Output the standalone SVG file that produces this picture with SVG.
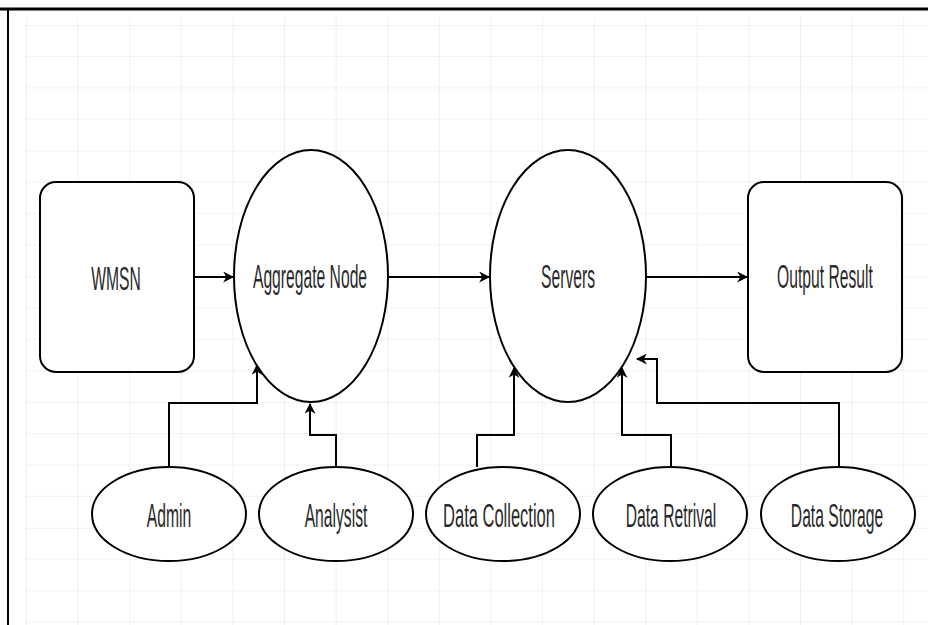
<svg xmlns="http://www.w3.org/2000/svg" width="928" height="625" viewBox="0 0 928 625">
<defs>
<marker id="arr" viewBox="0 0 10 10" refX="9" refY="5" markerWidth="11" markerHeight="11" markerUnits="userSpaceOnUse" orient="auto">
<path d="M0,0 L10,5 L0,10 L3,5 Z" fill="#000"/>
</marker>
<pattern id="grid" x="26" y="25" width="51.6" height="125.7" patternUnits="userSpaceOnUse">
<path d="M0,31.4 H51.6 M0,62.8 H51.6 M0,94.3 H51.6" stroke="#f2f2f2" stroke-width="1" fill="none"/>
<path d="M0,0 V125.7 M0,0 H51.6" stroke="#e2e2e2" stroke-width="1" fill="none"/>
</pattern>
</defs>
<style>
.shape{fill:#fff;stroke:#000;stroke-width:2}
.lbl{font-family:"Liberation Sans",Arial,sans-serif;font-size:33px;fill:#2a2a2a;text-anchor:middle}
.con{fill:none;stroke:#000;stroke-width:2;marker-end:url(#arr)}
</style>
<rect x="0" y="0" width="928" height="625" fill="#fff"/>
<rect x="26" y="17" width="902" height="608" fill="url(#grid)"/>
<line x1="0" y1="9" x2="928" y2="9" stroke="#000" stroke-width="3"/>
<line x1="8" y1="9" x2="8" y2="625" stroke="#000" stroke-width="2"/>

<g id="connectors">
<line class="con" x1="194" y1="277" x2="233" y2="277"/>
<line class="con" x1="388" y1="277" x2="489" y2="277"/>
<line class="con" x1="646" y1="277" x2="747" y2="277"/>
<polyline class="con" points="169,467 169,403 257,403 257,365"/>
<polyline class="con" points="336,467 336,435 310,435 310,404"/>
<polyline class="con" points="477,467 477,435 514,435 514,368"/>
<polyline class="con" points="671,467 671,435 622,435 622,368"/>
<polyline class="con" points="839,467 839,403 657,403 657,359 637,359"/>
</g>

<g id="wmsn">
<rect class="shape" x="40" y="182" width="154" height="190" rx="16" ry="16"/>
<text class="lbl" transform="translate(116,290) scale(0.475,1)">WMSN</text>
</g>
<g id="aggregate-node">
<ellipse class="shape" cx="311" cy="276" rx="77" ry="126"/>
<text class="lbl" transform="translate(310,288) scale(0.475,1)">Aggregate Node</text>
</g>
<g id="servers">
<ellipse class="shape" cx="568" cy="276" rx="78" ry="126"/>
<text class="lbl" transform="translate(568,288) scale(0.475,1)">Servers</text>
</g>
<g id="output-result">
<rect class="shape" x="748" y="182" width="154" height="190" rx="16" ry="16"/>
<text class="lbl" transform="translate(825,288) scale(0.475,1)">Output Result</text>
</g>
<g id="admin">
<ellipse class="shape" cx="169" cy="514" rx="77" ry="47"/>
<text class="lbl" transform="translate(169,527) scale(0.475,1)">Admin</text>
</g>
<g id="analysist">
<ellipse class="shape" cx="336" cy="514" rx="77" ry="47"/>
<text class="lbl" transform="translate(336,527) scale(0.475,1)">Analysist</text>
</g>
<g id="data-collection">
<ellipse class="shape" cx="503" cy="514" rx="77" ry="47"/>
<text class="lbl" transform="translate(499,527) scale(0.5,1)">Data Collection</text>
</g>
<g id="data-retrival">
<ellipse class="shape" cx="670" cy="514" rx="77" ry="47"/>
<text class="lbl" transform="translate(671,527) scale(0.475,1)">Data Retrival</text>
</g>
<g id="data-storage">
<ellipse class="shape" cx="838" cy="514" rx="77" ry="47"/>
<text class="lbl" transform="translate(837,527) scale(0.475,1)">Data Storage</text>
</g>
</svg>
